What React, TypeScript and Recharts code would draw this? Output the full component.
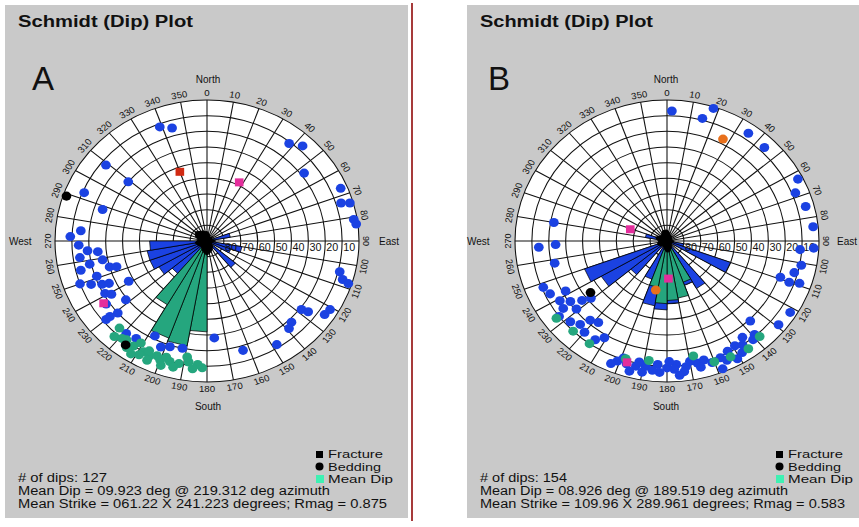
// App.tsx - two Schmidt (dip) stereonet panels side by side
import React from 'react'
import {
  RadarChart, Radar, PolarGrid, PolarAngleAxis, PolarRadiusAxis,
  ScatterChart, Scatter, XAxis, YAxis, ZAxis
} from 'recharts'

const BLUE = '#1b42e2'
const GREEN = '#25a67e'
const MINT = '#3ff0b2'
const MAGENTA = '#e42e9c'
const RED = '#d12a12'
const ORANGE = '#e8701c'
const PANEL = '#c9c9c9'
const FONT = '"Liberation Sans", Arial, sans-serif'

// rim labels (azimuth, degrees) and dip rings
const azimuthTicks = [0, 10, 20, 30, 40, 50, 60, 70, 80, 90, 100, 110, 120, 130, 140, 150, 160, 170,
  180, 190, 200, 210, 220, 230, 240, 250, 260, 270, 280, 290, 300, 310, 320, 330, 340, 350]
const dipRings = [10, 20, 30, 40, 50, 60, 70, 80, 90]

// ---- panel A ----  points are [azimuth, dip]
const blueA = [
  [339, 78], [344, 75], [38, 79], [43, 83], [53, 72], [67, 86], [73, 83], [74, 88], [81, 88], [83, 89],
  [104, 81], [107, 84], [108, 88], [128, 71], [127, 75], [124, 84], [121, 85], [136, 72], [139, 74],
  [148, 78], [163, 73], [176, 62],
  [309, 60], [309, 77], [293, 79], [288, 65], [275, 75], [272, 81], [268, 76], [265, 71], [262, 76],
  [264, 65], [259, 63], [254, 60], [253, 56], [256, 77], [250, 80], [251, 69], [246, 68], [245, 64],
  [241, 69], [239, 66], [229, 70], [230, 75], [241, 53], [232, 61], [230, 78], [258, 71], [248, 74], [236, 72],
  [219, 76], [214, 75], [207, 68], [202, 73], [198, 71], [192, 70]
]
const greenA = [
  [222, 82], [223, 76], [213, 80], [208, 80], [205, 81], [200, 81], [196, 80], [192, 80], [188, 78],
  [182, 81], [202, 79], [211, 76], [198, 78], [217, 79], [205, 84], [189, 75], [184, 79], [209, 83],
  [194, 83], [215, 83], [219, 80], [206, 78], [186, 82], [199, 84], [212, 85]
]
const beddingA = [[289, 88], [216, 82]]
const magentaA = [[27, 42], [237, 73]]
const redA = [[340, 47]]
const orangeA: number[][] = []
// rose wedges: [bin start azimuth, length on the dip scale]
const roseBlueA = [[220, 27], [230, 33], [240, 36], [250, 36], [260, 34], [70, 14], [100, 21], [110, 15], [130, 22]]
const roseGreenA = [[180, 58], [190, 68], [200, 66], [210, 47]]
const fractureA = [6, 5, 4, 3, 3, 4, 3, 3, 4, 5, 4, 3, 3, 4, 5, 6, 7, 8, 9, 8, 7, 6, 5, 5, 6, 6, 7, 6, 5, 7, 8, 9, 8, 7, 7, 6]

// ---- panel B ----
const blueB = [
  [2, 83], [18, 89], [15, 81], [35, 84], [44, 83], [63, 87], [68, 82], [75, 85], [84, 87], [94, 79],
  [93, 87], [101, 81], [109, 71], [105, 78], [109, 83], [110, 77], [122, 86], [129, 85],
  [136, 71], [139, 79], [144, 76], [149, 78], [153, 79], [157, 81], [161, 82], [148, 84], [158, 88],
  [141, 81], [146, 80], [151, 86], [155, 84],
  [201, 82], [197, 82], [193, 82], [189, 81], [184, 79], [180, 81], [176, 79], [172, 81], [167, 80],
  [164, 79], [195, 86], [183, 84], [173, 84], [192, 79], [179, 77],
  [199, 79], [186, 83], [177, 82], [170, 78], [166, 83], [203, 85], [190, 85], [175, 86],
  [280, 68], [268, 66], [267, 76], [258, 68], [248, 79], [244, 77], [239, 74], [242, 68], [235, 75],
  [236, 69], [231, 69], [233, 63], [231, 58],
  [233, 80], [228, 77], [224, 74], [222, 68], [218, 66], [220, 76], [214, 76], [211, 72]
]
const greenB = [[138, 82], [145, 84], [153, 83], [160, 82], [188, 77], [168, 75], [198, 79], [233, 82], [224, 80], [215, 80]]
const beddingB = [[234, 56]]
const magentaB = [[289, 23], [178, 24], [197, 81]]
const redB: number[][] = []
const orangeB = [[27, 73], [192, 32]]
const roseBlueB = [[100, 10], [110, 40], [140, 35], [150, 30], [160, 36], [170, 40], [180, 44], [190, 42],
  [200, 26], [220, 28], [230, 45], [240, 52], [280, 13]]
const roseGreenB = [[150, 28], [160, 37], [170, 38], [180, 40], [190, 30]]
const fractureB = [7, 6, 5, 4, 4, 3, 3, 3, 3, 4, 4, 3, 3, 3, 4, 5, 6, 7, 7, 6, 5, 4, 4, 5, 5, 6, 5, 5, 6, 7, 6, 5, 5, 6, 7, 7]

const BOX = 330
const R = 141
const STRETCH = 1.078

function toXY(points: number[][]) {
  return points.map(([az, dip]) => {
    const a = (az * Math.PI) / 180
    const r = dip / 90
    return { x: r * Math.sin(a), y: r * Math.cos(a) }
  })
}

function buildRoseRows(blue: number[][], green: number[][], fracture: number[]) {
  return azimuthTicks.map((az, i) => {
    const row: any = { az, frac: fracture[i] }
    blue.forEach((w, k) => { row[`b${k}`] = az === w[0] || az === (w[0] + 10) % 360 ? w[1] : 0 })
    green.forEach((w, k) => { row[`g${k}`] = az === w[0] || az === (w[0] + 10) % 360 ? w[1] : 0 })
    return row
  })
}

const AngleTick = ({ x, y, payload }: any) => {
  const az = Number(payload.value)
  const rot = az <= 90 ? az : az < 270 ? az - 180 : az - 360
  return (
    <text x={x} y={y} transform={`rotate(${rot} ${x} ${y})`} textAnchor="middle"
      dominantBaseline="central" fontSize={9} fill="#111" fontFamily={FONT}>
      {az}
    </text>
  )
}

const DipTick = ({ x, y, payload }: any) => {
  if (payload.value >= 90) return <g />
  return (
    <text x={x + 1} y={y + 7} textAnchor="start" dominantBaseline="central"
      fontSize={10} fill="#111" fontFamily={FONT}>
      {90 - payload.value}
    </text>
  )
}

function Stereonet({ cx, cy, blue, green, bedding, magenta, red, orange, roseBlue, roseGreen, fracture }: any) {
  const rows = buildRoseRows(roseBlue, roseGreen, fracture)
  const m = BOX / 2 - R
  return (
    <div style={{
      position: 'absolute', left: cx - BOX / 2, top: cy - BOX / 2, width: BOX, height: BOX,
      transform: `scaleX(${STRETCH})`, transformOrigin: 'center'
    }}>
      <div style={{ position: 'absolute', left: m, top: m, width: 2 * R, height: 2 * R, borderRadius: '50%', background: '#fff' }} />
      <div style={{ position: 'absolute', left: 0, top: 0 }}>
        <RadarChart width={BOX} height={BOX} cx={BOX / 2} cy={BOX / 2} outerRadius={R} data={rows}
          margin={{ top: 0, right: 0, bottom: 0, left: 0 }}>
          <PolarGrid gridType="circle" stroke="#111" strokeWidth={1} />
          <PolarAngleAxis dataKey="az" tick={<AngleTick />} tickLine={false} axisLine={false} tickSize={7} />
          <PolarRadiusAxis type="number" domain={[0, 90]} ticks={dipRings} angle={0}
            axisLine={false} tickLine={false} tick={<DipTick />} />
          {roseBlue.map((_: any, k: number) => (
            <Radar key={`b${k}`} dataKey={`b${k}`} fill={BLUE} fillOpacity={1} stroke="#000"
              strokeWidth={0.7} dot={false} isAnimationActive={false} />
          ))}
          {roseGreen.map((_: any, k: number) => (
            <Radar key={`g${k}`} dataKey={`g${k}`} fill={GREEN} fillOpacity={1} stroke="#000"
              strokeWidth={0.7} dot={false} isAnimationActive={false} />
          ))}
          <Radar dataKey="frac" fill="#000" fillOpacity={1} stroke="#000" strokeWidth={1}
            dot={false} isAnimationActive={false} />
        </RadarChart>
      </div>
      <div style={{ position: 'absolute', left: 0, top: 0 }}>
        <ScatterChart width={BOX} height={BOX} margin={{ top: m, right: m, bottom: m, left: m }}>
          <XAxis type="number" dataKey="x" domain={[-1, 1]} hide />
          <YAxis type="number" dataKey="y" domain={[-1, 1]} hide />
          <ZAxis range={[48, 48]} />
          <Scatter data={toXY(blue)} fill={BLUE} shape="circle" isAnimationActive={false} />
          <Scatter data={toXY(green)} fill={GREEN} shape="circle" isAnimationActive={false} />
          <Scatter data={toXY(magenta)} fill={MAGENTA} shape="square" isAnimationActive={false} />
          <Scatter data={toXY(red)} fill={RED} shape="square" isAnimationActive={false} />
          <Scatter data={toXY(orange)} fill={ORANGE} shape="circle" isAnimationActive={false} />
          <Scatter data={toXY(bedding)} fill="#000" shape="circle" isAnimationActive={false} />
        </ScatterChart>
      </div>
    </div>
  )
}

function PanelText({ x0, cx, letter, count, meanDip, meanStrike, legendX, lens }: any) {
  return (
    <g fontFamily={FONT} fill="#111">
      <text x={x0} y={27} fontSize={16} fontWeight="bold" textLength={lens[0]} lengthAdjust="spacingAndGlyphs">Schmidt (Dip) Plot</text>
      <text x={x0 + (letter === 'A' ? 14 : 8)} y={90} fontSize={33}>{letter}</text>
      <text x={cx} y={83} fontSize={10} textAnchor="middle">North</text>
      <text x={cx} y={410} fontSize={10} textAnchor="middle">South</text>
      <text x={cx - 199} y={245} fontSize={10}>West</text>
      <text x={cx + 171} y={245} fontSize={10}>East</text>
      <rect x={legendX} y={451} width={7} height={7} fill="#000" />
      <circle cx={legendX + 3.5} cy={466.5} r={4} fill="#000" />
      <rect x={legendX} y={475} width={8} height={8} fill={MINT} />
      <text x={legendX + 12} y={458} fontSize={10.5} textLength={55} lengthAdjust="spacingAndGlyphs">Fracture</text>
      <text x={legendX + 12} y={470.5} fontSize={10.5} textLength={53} lengthAdjust="spacingAndGlyphs">Bedding</text>
      <text x={legendX + 12} y={483} fontSize={10.5} textLength={65} lengthAdjust="spacingAndGlyphs">Mean Dip</text>
      <text x={x0} y={482} fontSize={12} textLength={lens[1]} lengthAdjust="spacingAndGlyphs"># of dips: {count}</text>
      <text x={x0} y={495} fontSize={12} textLength={lens[2]} lengthAdjust="spacingAndGlyphs">{meanDip}</text>
      <text x={x0} y={508} fontSize={12} textLength={lens[3]} lengthAdjust="spacingAndGlyphs">{meanStrike}</text>
    </g>
  )
}

export default function App() {
  return (
    <div style={{ position: 'absolute', left: 0, top: 0, width: 859, height: 527, background: '#fff', overflow: 'hidden', fontFamily: FONT }}>
      <div style={{ position: 'absolute', left: 5, top: 5, width: 403, height: 513, background: PANEL }} />
      <div style={{ position: 'absolute', left: 411, top: 3, width: 2, height: 518, background: '#a63a3a' }} />
      <div style={{ position: 'absolute', left: 467, top: 5, width: 392, height: 513, background: PANEL }} />

      <Stereonet cx={207} cy={241} blue={blueA} green={greenA} bedding={beddingA} magenta={magentaA}
        red={redA} orange={orangeA} roseBlue={roseBlueA} roseGreen={roseGreenA} fracture={fractureA} />
      <Stereonet cx={667} cy={241} blue={blueB} green={greenB} bedding={beddingB} magenta={magentaB}
        red={redB} orange={orangeB} roseBlue={roseBlueB} roseGreen={roseGreenB} fracture={fractureB} />

      <svg width={859} height={527} style={{ position: 'absolute', left: 0, top: 0, pointerEvents: 'none' }}>
        <PanelText x0={18} cx={208} letter="A" count={127} legendX={316} lens={[175, 89, 312, 369]}
          meanDip="Mean Dip = 09.923 deg @ 219.312 deg azimuth"
          meanStrike="Mean Strike = 061.22 X 241.223 degrees; Rmag =  0.875" />
        <PanelText x0={480} cx={666} letter="B" count={154} legendX={776} lens={[173, 87, 308, 365]}
          meanDip="Mean Dip = 08.926 deg @ 189.519 deg azimuth"
          meanStrike="Mean Strike = 109.96 X 289.961 degrees; Rmag =  0.583" />
      </svg>
    </div>
  )
}
